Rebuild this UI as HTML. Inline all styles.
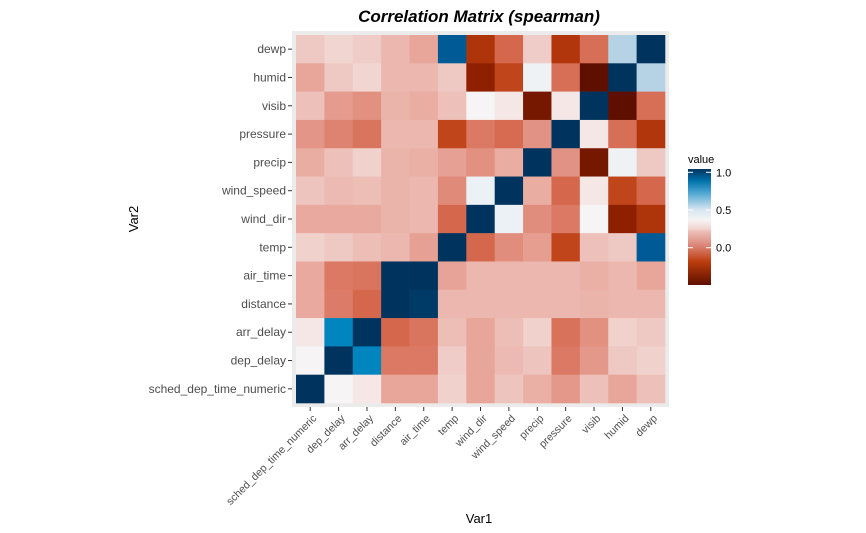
<!DOCTYPE html>
<html><head><meta charset="utf-8"><style>
body{margin:0;background:#fff;}
svg{display:block;font-family:"Liberation Sans",Arial,sans-serif;}
</style></head><body>
<svg id="chart" width="866" height="533">
<defs>
<linearGradient id="lg" x1="0" y1="1" x2="0" y2="0">
<stop offset="0" stop-color="#5e0f00"/><stop offset="0.2" stop-color="#bb3c0e"/>
<stop offset="0.33" stop-color="#d98070"/><stop offset="0.47" stop-color="#eec3bd"/>
<stop offset="0.48" stop-color="#f0d2cd"/><stop offset="0.56" stop-color="#f6f4f4"/>
<stop offset="0.65" stop-color="#d6e6f0"/><stop offset="0.8" stop-color="#4aa3d0"/>
<stop offset="0.9" stop-color="#0070aa"/><stop offset="1" stop-color="#00345e"/>
</linearGradient></defs>
<text x="479" y="22" text-anchor="middle" font-size="17" font-weight="bold" font-style="italic" fill="#000">Correlation Matrix (spearman)</text>
<rect x="292" y="31" width="377" height="376" fill="#ebebeb"/>
<g id="cells"></g><g id="axes"></g>
<text x="138" y="219" transform="rotate(-90 138 219)" text-anchor="middle" font-size="13" fill="#000">Var2</text>
<text x="479" y="523" text-anchor="middle" font-size="13" fill="#000">Var1</text>
<g>
<text x="688" y="163" font-size="11" fill="#000">value</text>
<rect x="688" y="169" width="23" height="116" fill="url(#lg)"/>
<g id="leg"></g>
</g>
</svg>
<script>
const labels=["sched_dep_time_numeric","dep_delay","arr_delay","distance","air_time","temp","wind_dir","wind_speed","precip","pressure","visib","humid","dewp"];
const rowsTopDown=["dewp","humid","visib","pressure","precip","wind_speed","wind_dir","temp","air_time","distance","arr_delay","dep_delay","sched_dep_time_numeric"];
const rDewp=[0.1,0.13,0.11,0.05,0,0.88,-0.33,-0.2,0.11,-0.32,-0.18,0.45,1];
const rHumid=[0,0.1,0.13,0.05,0.05,0.1,-0.4,-0.28,0.25,-0.18,-0.5,1,0.45];
const rVisib=[0.08,-0.04,-0.08,0.04,0.02,0.08,0.2,0.17,-0.45,0.17,1,-0.5,-0.18];
const rPressure=[-0.06,-0.12,-0.16,0.05,0.05,-0.28,-0.15,-0.19,-0.07,1,0.17,-0.18,-0.32];
const rPrecip=[0.02,0.08,0.12,0.04,0.03,-0.02,-0.08,0.02,1,-0.07,-0.45,0.25,0.1];
const rWindSpeed=[0.09,0.06,0.07,0.04,0.05,-0.1,0.27,1,0.02,-0.2,0.17,-0.28,-0.2];
const rWindDir=[0.01,0.01,0.01,0.04,0.05,-0.2,1,0.27,-0.09,-0.15,0.2,-0.4,-0.33];
const rTemp=[0.12,0.1,0.07,0.05,-0.02,1,-0.2,-0.09,-0.03,-0.28,0.08,0.1,0.88];
const rAirTime=[0.01,-0.15,-0.16,1,1,-0.01,0.05,0.05,0.05,0.05,0.03,0.05,0];
const rDistance=[0.01,-0.14,-0.2,1,0.98,0.05,0.05,0.05,0.05,0.05,0.04,0.05,0.05];
const rArrDelay=[0.17,0.75,1,-0.2,-0.16,0.07,0,0.07,0.12,-0.17,-0.08,0.12,0.1];
const rDepDelay=[0.2,1,0.75,-0.15,-0.15,0.11,0,0.06,0.09,-0.15,-0.05,0.1,0.12];
const rSched=[1,0.2,0.17,0,0,0.12,0,0.09,0.03,-0.05,0.08,0,0.08];
const legendTicks=[1.0,0.5,0.0];
const legendTickLabels=["1.0","0.5","0.0"];

const matrix=[rDewp,rHumid,rVisib,rPressure,rPrecip,rWindSpeed,rWindDir,rTemp,rAirTime,rDistance,rArrDelay,rDepDelay,rSched];
const stops=[[-0.5,"#5e0f00"],[-0.4,"#8e2000"],[-0.3,"#bb3c0e"],[-0.2,"#d5674d"],[-0.1,"#e08a7a"],[0,"#e8a69a"],[0.1,"#eec8c2"],[0.2,"#f6f4f4"],[0.3,"#e6eff5"],[0.45,"#b5d3e4"],[0.6,"#4aa3d0"],[0.75,"#0085be"],[0.88,"#005a96"],[1,"#00345e"]];
function hx(c){return [1,3,5].map(i=>parseInt(c.substr(i,2),16));}
function color(v){
  if(v<=stops[0][0])return stops[0][1];
  for(let i=1;i<stops.length;i++){if(v<=stops[i][0]){const a=stops[i-1],b=stops[i];const t=(v-a[0])/(b[0]-a[0]);const ca=hx(a[1]),cb=hx(b[1]);return "rgb("+ca.map((x,k)=>Math.round(x+(cb[k]-x)*t)).join(",")+")";}}
  return stops[stops.length-1][1];
}
const x0=296,x1=665,y0=35,y1=403;
const cw=(x1-x0)/labels.length,ch=(y1-y0)/rowsTopDown.length;
function xPos(i){return x0+i*cw;}
function yPos(j){return y0+j*ch;}
function legY(v){return 247.7-(v*75.4);}
const NS="http://www.w3.org/2000/svg";
const cells=document.getElementById('cells'),axes=document.getElementById('axes');
function mk(tag,attrs,parent){const e=document.createElementNS(NS,tag);for(const k in attrs)e.setAttribute(k,attrs[k]);parent.appendChild(e);return e;}
matrix.forEach((row,j)=>row.forEach((v,i)=>{
  const r=mk('rect',{x:xPos(i),y:yPos(j),width:cw+0.3,height:ch+0.3,fill:color(v)},cells);
  
  
}));
rowsTopDown.forEach((l,j)=>{
  const yc=yPos(j)+ch/2;
  mk('line',{x1:288,x2:292,y1:yc,y2:yc,stroke:'#333'},axes);
  const t=mk('text',{x:286,y:yc+4,'text-anchor':'end','font-size':12,fill:'#4d4d4d'},axes);
  t.textContent=l;
  
  
});
labels.forEach((l,i)=>{
  const xc=xPos(i)+cw/2;
  mk('line',{x1:xc,x2:xc,y1:407,y2:411,stroke:'#333'},axes);
  const tx=xc+7,ty=419;
  const t=mk('text',{x:tx,y:ty,'text-anchor':'end','font-size':10.7,fill:'#4d4d4d',transform:'rotate(-45 '+tx+' '+ty+')'},axes);
  t.textContent=l;
  
  
});
const leg=document.getElementById('leg');
legendTicks.forEach((v,k)=>{
  const y=legY(v);
  mk('line',{x1:688,x2:693,y1:y,y2:y,stroke:'#fff'},leg);
  mk('line',{x1:706,x2:711,y1:y,y2:y,stroke:'#fff'},leg);
  const t=mk('text',{x:716,y:y+4,'font-size':11,fill:'#000'},leg);
  t.textContent=legendTickLabels[k];
  
  
});
</script>
</body></html>
